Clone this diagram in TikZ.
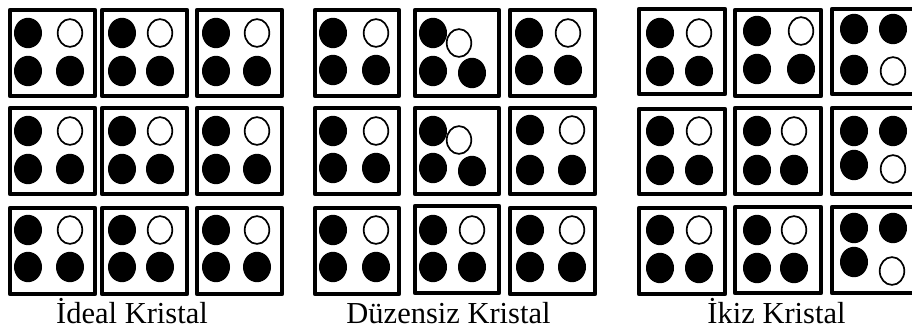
\documentclass[tikz,border=0pt]{standalone}
\usepackage{fontspec}
\setmainfont{Liberation Serif}
\begin{document}
\begin{tikzpicture}[x=1pt,y=-1pt,
  cellbox/.style={draw=black,line width=3.7pt,fill=white,line join=round},
  blackatom/.style={fill=black},
  whiteatom/.style={draw=black,line width=1.7pt,fill=white},
  caption/.style={font=\fontsize{30.5}{32}\selectfont,anchor=base,inner sep=0pt}]
\useasboundingbox (0,0) rectangle (912,334);
\clip (0,0) rectangle (912,334);
\newcommand\sq[4]{\draw[cellbox] (#1+1.85,#2+1.85) rectangle (#3-1.85,#4-1.85);}
\newcommand\bat[2]{\fill[blackatom] (#1,#2) ellipse [x radius=14,y radius=15.2];}
\newcommand\wat[2]{\draw[whiteatom] (#1,#2) ellipse [x radius=12.3,y radius=13.9];}
\newcommand\std[8]{\sq{#1}{#2}{#3}{#4}\bat{#5}{#7}\wat{#6}{#7}\bat{#5}{#8}\bat{#6}{#8}}
% ---- Ideal Kristal
\std{8}{8}{97}{98}{28}{70}{33}{71}
\std{100}{8}{189}{98}{122}{160}{33}{71}
\std{195}{8}{284}{98}{216}{257}{33}{71}
\std{8}{106}{97}{196}{28}{70}{131}{169}
\std{100}{106}{189}{196}{122}{160}{131}{169}
\std{195}{106}{284}{196}{216}{257}{131}{169}
\std{8}{206}{97}{296}{28}{70}{230}{267}
\std{100}{206}{189}{296}{122}{160}{230}{267}
\std{195}{206}{284}{296}{216}{257}{230}{267}
% ---- Duzensiz Kristal
\std{313}{8}{401}{98}{333}{376}{33}{70}
\sq{413}{8}{501}{98}
\bat{433}{33}\bat{433}{71}\bat{472}{73}\wat{459}{43}
\std{508}{8}{597}{98}{529}{568}{33}{70}
\std{313}{106}{401}{196}{333}{376}{131}{168}
\sq{413}{106}{501}{196}
\bat{433}{131}\bat{433}{168}\bat{472}{171}\wat{459}{140}
\std{508}{106}{597}{196}{530}{572}{130}{170}
\std{313}{206}{401}{296}{333}{376}{230}{267}
\std{413}{204}{501}{295}{433}{472}{230}{267}
\std{508}{206}{597}{296}{530}{572}{230}{267}
% ---- Ikiz Kristal
\std{637}{7}{727}{96}{660}{699}{33}{71}
\std{733}{8}{823}{98}{757}{801}{31}{69}
\sq{830}{7}{921}{96}
\bat{854}{29}\bat{893}{29}\bat{854}{70}\wat{893}{71}
\std{637}{107}{727}{196}{660}{699}{131}{170}
\std{733}{106}{823}{196}{757}{794}{131}{170}
\sq{830}{106}{921}{196}
\bat{854}{131}\bat{893}{131}\bat{854}{165}\wat{893}{169}
\std{637}{206}{727}{296}{660}{699}{230}{268}
\std{733}{205}{823}{295}{757}{794}{230}{268}
\sq{830}{205}{921}{295}
\bat{854}{228}\bat{893}{228}\bat{854}{262}\wat{892}{271}
% ---- captions
\node[caption] (capA) at (132,323) {İdeal Kristal};
\node[caption] (capB) at (448.5,323) {Düzensiz Kristal};
\node[caption] (capC) at (776.5,323) {İkiz Kristal};
\end{tikzpicture}
\end{document}
